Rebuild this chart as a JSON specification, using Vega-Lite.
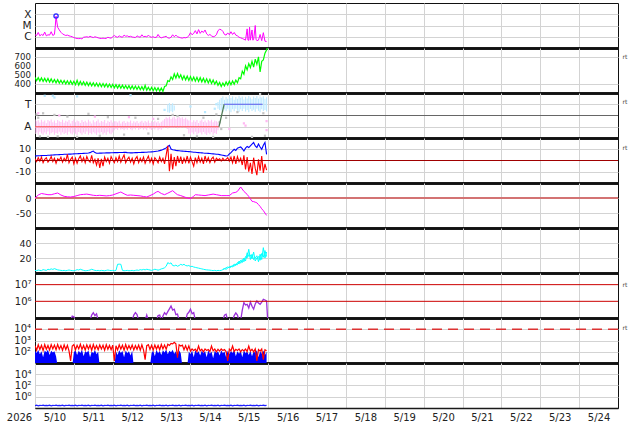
{
"$schema":"https://vega.github.io/schema/vega-lite/v6.json",
"padding":{"left":0,"top":2,"right":0,"bottom":0},
"background":"white",
"spacing":0,
"bounds":"flush",
"config":{"view":{"stroke":"#111","strokeWidth":1},"font":"DejaVu Sans","mark":{"invalid":"filter"},
"axis":{"labelFont":"DejaVu Sans","labelFontSize":9.5,"labelColor":"#222","gridColor":"#d3d3d3","gridWidth":1,"ticks":false,"domain":false,"labelOverlap":false,"labelFlush":false}},
"datasets":{
"d":[
{"h":0,"x":1.5e-6,"s":474,"t":4.0,"z":1.5,"n":3.5,"e":7e4,"r":338,"b":124,"q":0.027},
{"h":1,"x":1.3e-6,"s":436,"t":4.1,"z":-1.0,"n":3.0,"e":7e4,"r":135,"b":78,"q":0.031},
{"h":2,"x":2.4e-6,"s":470,"t":4.2,"z":2.5,"n":4.0,"e":7e4,"r":416,"b":143,"q":0.025},
{"h":3,"x":1.2e-6,"s":432,"t":4.2,"z":-0.5,"n":3.5,"e":7e4,"r":158,"b":59,"q":0.030},
{"h":4,"x":1.6e-6,"s":467,"t":4.3,"z":3.0,"n":3.2,"e":7e4,"r":377,"b":110,"q":0.028},
{"h":5,"x":1.3e-6,"s":429,"t":4.4,"z":-2.0,"n":4.5,"e":7e4,"r":128,"b":33,"q":0.033},
{"h":6,"x":2.6e-6,"s":462,"t":4.5,"z":1.0,"n":4.0,"e":7e4,"r":442,"b":130,"q":0.026},
{"h":7,"x":1.2e-6,"s":425,"t":4.5,"z":2.5,"n":3.5,"e":7e4,"r":165,"b":91,"q":0.029},
{"h":8,"x":1.5e-6,"s":461,"t":4.6,"z":-1.5,"n":5.0,"e":7e4,"r":364,"b":150,"q":0.027},
{"h":9,"x":1.4e-6,"s":422,"t":4.7,"z":0.5,"n":4.5,"e":7e4,"r":143,"b":52,"q":0.031},
{"h":10,"x":2.8e-6,"s":457,"t":4.8,"z":3.5,"n":5.5,"e":7e4,"r":429,"b":124,"q":0.025},
{"h":11,"x":1.3e-6,"s":418,"t":4.9,"z":-1.0,"n":4.8,"e":7e4,"r":180,"b":85,"q":0.030},
{"h":12,"x":1.6e-6,"s":450,"t":5.0,"z":2.0,"n":5.8,"e":7e4,"r":390,"b":110,"q":0.028},
{"h":12.5,"x":8e-6},
{"h":13,"x":6.9e-5,"s":413,"t":5.1,"z":-2.5,"n":5.0,"e":7e4,"r":150,"b":39,"q":0.033},
{"h":13.5,"x":2e-5},
{"h":14,"x":7e-6,"s":448,"t":5.1,"z":1.5,"n":4.2,"e":7e4,"r":455,"b":5,"q":0.026},
{"h":15,"x":4e-6,"s":410,"t":5.2,"z":0.0,"n":3.8,"e":7e4,"r":173,"b":5,"q":0.029},
{"h":16,"x":2.5e-6,"s":442,"t":5.3,"z":3.0,"n":3.5,"e":7e4,"r":351,"b":5,"q":0.027},
{"h":17,"x":1.8e-6,"s":406,"t":5.4,"z":-1.5,"n":3.2,"e":7e4,"r":135,"b":5,"q":0.031},
{"h":18,"x":1.5e-6,"s":439,"t":5.5,"z":2.0,"n":3.5,"e":7e4,"r":403,"b":5,"q":0.025},
{"h":19,"x":1.3e-6,"s":402,"t":5.5,"z":-0.5,"n":3.0,"e":7e4,"r":158,"b":5,"q":0.030},
{"h":20,"x":1.4e-6,"s":436,"t":5.6,"z":5.5,"n":3.5,"e":7e4,"r":364,"b":5,"q":0.028},
{"h":21,"x":1.2e-6,"s":398,"t":5.7,"z":-2.0,"n":4.0,"e":7e4,"r":120,"b":5,"q":0.033},
{"h":22,"x":1.1e-6,"s":434,"t":5.7,"z":1.0,"n":3.5,"e":7e4,"r":15,"b":5,"q":0.026},
{"h":23,"x":1.0e-6,"s":396,"t":5.8,"z":3.0,"n":3.2,"e":1.3e5,"r":325,"b":5,"q":0.029},
{"h":24,"x":8.5e-7,"s":430,"t":5.9,"z":-3.0,"n":3.0,"e":1.2e5,"r":429,"b":91,"q":0.027},
{"h":25,"x":7.5e-7,"s":393,"t":6.0,"z":2.0,"n":3.5,"e":7e4,"r":150,"b":137,"q":0.031},
{"h":26,"x":7.0e-7,"s":442,"t":6.0,"z":-2.5,"n":4.5,"e":7e4,"r":377,"b":52,"q":0.025},
{"h":27,"x":6.8e-7,"s":388,"t":6.1,"z":1.5,"n":4.0,"e":7e4,"r":180,"b":124,"q":0.030},
{"h":28,"x":7.0e-7,"s":428,"t":6.2,"z":4.0,"n":5.0,"e":7e4,"r":468,"b":78,"q":0.028},
{"h":29,"x":6.5e-7,"s":390,"t":6.2,"z":-1.0,"n":4.2,"e":7e4,"r":158,"b":150,"q":0.033},
{"h":30,"x":9.0e-7,"s":424,"t":6.3,"z":2.5,"n":3.5,"e":7e4,"r":364,"b":39,"q":0.026},
{"h":31,"x":9.5e-7,"s":386,"t":6.4,"z":-2.0,"n":3.0,"e":7e4,"r":143,"b":110,"q":0.029},
{"h":32,"x":1.0e-6,"s":422,"t":6.4,"z":3.5,"n":3.2,"e":7e4,"r":416,"b":85,"q":0.027},
{"h":33,"x":9.0e-7,"s":383,"t":6.6,"z":0.0,"n":3.5,"e":7e4,"r":173,"b":130,"q":0.031},
{"h":34,"x":1.1e-6,"s":417,"t":7.0,"z":-1.5,"n":4.0,"e":7e4,"r":390,"b":33,"q":0.025},
{"h":35,"x":9.5e-7,"s":379,"t":7.8,"z":4.5,"n":5.0,"e":1.5e5,"r":135,"b":104,"q":0.030},
{"h":36,"x":8.5e-7,"s":414,"t":8.4,"z":-2.0,"n":4.2,"e":2.1e5,"r":442,"b":72,"q":0.028},
{"h":37,"x":1.0e-6,"s":376,"t":7.0,"z":1.0,"n":3.5,"e":1.4e5,"r":165,"b":143,"q":0.033},
{"h":38,"x":9.0e-7,"s":411,"t":6.5,"z":-4.0,"n":3.2,"e":1.8e5,"r":351,"b":59,"q":0.026},
{"h":39,"x":8.0e-7,"s":373,"t":6.5,"z":2.0,"n":3.5,"e":7e4,"r":150,"b":98,"q":0.029},
{"h":40,"x":7.2e-7,"s":408,"t":6.6,"z":-6.5,"n":3.0,"e":7e4,"r":403,"b":5,"q":0.027},
{"h":41,"x":7.0e-7,"s":370,"t":6.6,"z":1.5,"n":3.5,"e":7e4,"r":180,"b":5,"q":0.031},
{"h":42,"x":7.5e-7,"s":405,"t":6.7,"z":-5.0,"n":3.2,"e":7e4,"r":377,"b":5,"q":0.025},
{"h":43,"x":7.0e-7,"s":368,"t":6.7,"z":3.0,"n":3.0,"e":7e4,"r":135,"b":5,"q":0.030},
{"h":44,"x":7.2e-7,"s":402,"t":6.8,"z":-1.0,"n":3.5,"e":7e4,"r":429,"b":5,"q":0.028},
{"h":45,"x":9.0e-7,"s":364,"t":6.8,"z":2.0,"n":4.0,"e":7e4,"r":165,"b":5,"q":0.033},
{"h":46,"x":8.0e-7,"s":399,"t":6.8,"z":-2.5,"n":3.5,"e":7e4,"r":364,"b":5,"q":0.026},
{"h":47,"x":7.5e-7,"s":361,"t":6.9,"z":3.5,"n":3.2,"e":7e4,"r":150,"b":5,"q":0.029},
{"h":48,"x":1.0e-6,"s":396,"t":6.9,"z":0.5,"n":3.5,"e":7e4,"r":390,"b":5,"q":0.027},
{"h":49,"x":1.3e-6,"s":358,"t":7.0,"z":-2.0,"n":3.0,"e":7e4,"r":15,"b":5,"q":0.031},
{"h":50,"x":1.0e-6,"s":393,"t":7.0,"z":2.5,"n":3.5,"e":7e4,"r":338,"b":104,"q":0.025},
{"h":51,"x":9.0e-7,"s":355,"t":7.0,"z":-1.0,"n":11.6,"e":7e4,"r":143,"b":52,"q":0.030},
{"h":52,"x":1.2e-6,"s":390,"t":7.1,"z":4.0,"n":11.8,"e":7e4,"r":416,"b":137,"q":0.028},
{"h":53,"x":1.0e-6,"s":353,"t":7.1,"z":-1.5,"n":11.6,"e":7e4,"r":173,"b":78,"q":0.033},
{"h":54,"x":9.0e-7,"s":387,"t":7.1,"z":2.0,"n":3.5,"e":7e4,"r":377,"b":117,"q":0.026},
{"h":55,"x":1.4e-6,"s":350,"t":7.2,"z":5.0,"n":3.0,"e":7e4,"r":135,"b":33,"q":0.029},
{"h":56,"x":1.1e-6,"s":384,"t":7.2,"z":-2.0,"n":3.2,"e":7e4,"r":442,"b":130,"q":0.027},
{"h":57,"x":1.2e-6,"s":348,"t":7.0,"z":1.0,"n":3.5,"e":7e4,"r":158,"b":72,"q":0.031},
{"h":58,"x":1.0e-6,"s":382,"t":6.9,"z":3.0,"n":3.0,"e":7e4,"r":364,"b":110,"q":0.025},
{"h":59,"x":1.1e-6,"s":345,"t":6.8,"z":-1.5,"n":3.2,"e":7e4,"r":173,"b":46,"q":0.030},
{"h":60,"x":9.5e-7,"s":379,"t":6.8,"z":2.0,"n":3.5,"e":7e4,"r":403,"b":124,"q":0.028},
{"h":61,"x":9.0e-7,"s":342,"t":6.9,"z":-3.0,"n":3.0,"e":1.5e5,"r":143,"b":5,"q":0.033},
{"h":62,"x":8.5e-7,"s":377,"t":7.0,"z":1.5,"n":3.5,"e":2.1e5,"r":351,"b":5,"q":0.026},
{"h":63,"x":1.2e-6,"s":339,"t":7.0,"z":3.5,"n":4.0,"e":1.6e5,"r":165,"b":5,"q":0.029},
{"h":64,"x":1.0e-6,"s":374,"t":7.1,"z":-2.0,"n":3.5,"e":7e4,"r":390,"b":5,"q":0.027},
{"h":65,"x":9.0e-7,"s":336,"t":7.1,"z":2.0,"n":4.5,"e":7e4,"r":135,"b":5,"q":0.031},
{"h":66,"x":1.5e-6,"s":370,"t":7.2,"z":-1.0,"n":4.0,"e":7e4,"r":416,"b":5,"q":0.025},
{"h":67,"x":1.0e-6,"s":333,"t":7.2,"z":3.0,"n":4.8,"e":7e4,"r":150,"b":5,"q":0.030},
{"h":68,"x":1.1e-6,"s":384,"t":7.3,"z":-2.5,"n":4.2,"e":7e4,"r":20,"b":5,"q":0.028},
{"h":69,"x":9.5e-7,"s":330,"t":7.4,"z":1.0,"n":5.0,"e":1.5e5,"r":351,"b":5,"q":0.033},
{"h":70,"x":1.4e-6,"s":364,"t":7.5,"z":4.0,"n":4.5,"e":7e4,"r":429,"b":5,"q":0.026},
{"h":71,"x":1.0e-6,"s":328,"t":7.6,"z":-1.5,"n":4.0,"e":7e4,"r":158,"b":5,"q":0.029},
{"h":72,"x":9.0e-7,"s":362,"t":7.7,"z":2.0,"n":3.5,"e":7e4,"r":377,"b":78,"q":0.027},
{"h":73,"x":1.0e-6,"s":326,"t":7.8,"z":-3.0,"n":4.2,"e":7e4,"r":143,"b":124,"q":0.031},
{"h":74,"x":8.5e-7,"s":360,"t":8.0,"z":2.5,"n":5.0,"e":7e4,"r":403,"b":39,"q":0.025},
{"h":75,"x":9.0e-7,"s":324,"t":8.2,"z":0.5,"n":4.5,"e":7e4,"r":173,"b":150,"q":0.030},
{"h":76,"x":1.6e-6,"s":358,"t":8.4,"z":-2.0,"n":3.8,"e":1.4e5,"r":364,"b":72,"q":0.028},
{"h":77,"x":9.5e-7,"s":321,"t":8.8,"z":3.0,"n":4.5,"e":1.5e5,"r":150,"b":117,"q":0.033},
{"h":78,"x":8.0e-7,"s":354,"t":9.2,"z":-1.0,"n":5.5,"e":7e4,"r":442,"b":52,"q":0.026},
{"h":79,"x":9.0e-7,"s":318,"t":9.8,"z":2.0,"n":6.0,"e":1.3e5,"r":180,"b":137,"q":0.029},
{"h":80,"x":1.0e-6,"s":372,"t":10.5,"z":-3.0,"n":7.0,"e":2.1e5,"r":390,"b":85,"q":0.027},
{"h":81,"x":1.1e-6,"s":380,"t":11.2,"z":5.0,"n":9.0,"e":1.6e5,"r":165,"b":160,"q":0.031},
{"h":82,"x":8.0e-7,"s":437,"t":12.4,"z":13.0,"n":13.8,"e":2.4e5,"r":468,"b":59,"q":0.025},
{"h":83,"x":7.5e-7,"s":428,"t":13.5,"z":-9.5,"n":12.5,"e":3.5e5,"r":364,"b":124,"q":0.030},
{"h":84,"x":9.0e-7,"s":480,"t":10.2,"z":6.0,"n":13.5,"e":5.2e5,"r":546,"b":91,"q":0.028},
{"h":85,"x":1.5e-6,"s":450,"t":9.6,"z":-8.0,"n":10.0,"e":3.0e5,"r":494,"b":150,"q":0.033},
{"h":86,"x":1.0e-6,"s":512,"t":9.3,"z":3.0,"n":9.5,"e":3.4e5,"r":676,"b":65,"q":0.026},
{"h":87,"x":1.4e-6,"s":466,"t":9.0,"z":-5.0,"n":10.5,"e":1.6e5,"r":520,"b":110,"q":0.029},
{"h":88,"x":1.0e-6,"s":517,"t":8.8,"z":4.0,"n":9.0,"e":1.7e5,"r":30,"b":39,"q":0.027},
{"h":89,"x":9.0e-7,"s":468,"t":8.6,"z":-2.0,"n":10.0,"e":7e4,"r":416,"b":130,"q":0.031},
{"h":90,"x":8.0e-7,"s":502,"t":8.4,"z":3.5,"n":11.6,"e":7e4,"r":325,"b":72,"q":0.025},
{"h":91,"x":7.5e-7,"s":450,"t":8.3,"z":-3.0,"n":10.5,"e":7e4,"r":390,"b":5,"q":0.030},
{"h":92,"x":8.5e-7,"s":492,"t":8.2,"z":2.0,"n":11.6,"e":7e4,"r":150,"b":5,"q":0.028},
{"h":93,"x":8.0e-7,"s":446,"t":8.1,"z":-1.5,"n":10.0,"e":7e4,"r":351,"b":5,"q":0.033},
{"h":94,"x":9.0e-7,"s":487,"t":8.0,"z":4.0,"n":9.5,"e":1.7e5,"r":135,"b":5,"q":0.026},
{"h":95,"x":1.2e-6,"s":440,"t":7.9,"z":-2.5,"n":10.0,"e":2.2e5,"r":338,"b":104,"q":0.029},
{"h":96,"x":2.3e-6,"s":482,"t":7.8,"z":3.0,"n":8.5,"e":3.4e5,"r":113,"b":59,"q":0.027},
{"h":97,"x":1.5e-6,"s":436,"t":7.6,"z":-1.0,"n":9.0,"e":1.8e5,"r":180,"b":130,"q":0.031},
{"h":98,"x":2.0e-6,"s":477,"t":7.4,"z":-5.0,"n":8.0,"e":2.1e5,"r":128,"b":33,"q":0.025},
{"h":99,"x":3.5e-6,"s":431,"t":7.3,"z":2.5,"n":7.5,"e":7e4,"r":173,"b":137,"q":0.030},
{"h":100,"x":1.8e-6,"s":474,"t":7.1,"z":-2.0,"n":7.0,"e":7e4,"r":105,"b":78,"q":0.028},
{"h":101,"x":4.3e-6,"s":428,"t":7.0,"z":3.5,"n":6.5,"e":7e4,"r":325,"b":110,"q":0.033},
{"h":102,"x":2.0e-6,"s":470,"t":6.9,"z":-1.5,"n":6.0,"e":7e4,"r":120,"b":46,"q":0.026},
{"h":103,"x":3.2e-6,"s":424,"t":6.8,"z":2.0,"n":5.5,"e":7e4,"r":165,"b":130,"q":0.029},
{"h":104,"x":2.4e-6,"s":464,"t":6.6,"z":-3.0,"n":5.0,"e":7e4,"r":98,"b":72,"q":0.027},
{"h":105,"x":4.0e-6,"s":418,"t":6.5,"z":4.0,"n":4.5,"e":7e4,"r":180,"b":117,"q":0.031},
{"h":106,"x":1.8e-6,"s":458,"t":6.4,"z":-1.0,"n":4.2,"e":7e4,"r":128,"b":33,"q":0.025},
{"h":107,"x":1.3e-6,"s":412,"t":6.3,"z":2.5,"n":4.0,"e":7e4,"r":158,"b":137,"q":0.030},
{"h":108,"x":1.6e-6,"s":452,"t":6.2,"z":-2.0,"n":3.8,"e":7e4,"r":105,"b":65,"q":0.028},
{"h":109,"x":1.2e-6,"s":406,"t":6.0,"z":1.5,"n":3.5,"e":7e4,"r":325,"b":104,"q":0.033},
{"h":110,"x":1.0e-6,"s":444,"t":5.9,"z":3.0,"n":3.2,"e":7e4,"r":120,"b":26,"q":0.026},
{"h":111,"x":1.1e-6,"s":398,"t":5.8,"z":-1.5,"n":3.5,"e":7e4,"r":173,"b":124,"q":0.029},
{"h":112,"x":1.5e-6,"s":432,"t":5.6,"z":2.0,"n":3.0,"e":7e4,"r":98,"b":78,"q":0.027},
{"h":113,"x":3.5e-6,"s":386,"t":5.5,"z":0.5,"n":3.5,"e":7e4,"r":165,"b":110,"q":0.031},
{"h":114,"x":4.6e-6,"s":417,"t":5.2,"z":1.5,"n":3.2,"e":7e4,"r":113,"b":46,"q":0.025},
{"h":115,"x":4.2e-6,"s":373,"t":4.9,"z":-0.5,"n":3.5,"e":7e4,"r":180,"b":137,"q":0.030},
{"h":116,"x":3.0e-6,"s":410,"t":4.6,"z":2.0,"n":4.5,"e":7e4,"r":128,"b":72,"q":0.028},
{"h":117,"x":1.6e-6,"s":380,"t":4.3,"z":0.0,"n":6.0,"e":1.5e5,"r":158,"b":104,"q":0.033},
{"h":118,"x":1.4e-6,"s":424,"t":4.0,"z":1.0,"n":5.0,"e":1.7e5,"r":105,"b":33,"q":0.026},
{"h":119,"x":2.2e-6,"s":388,"t":4.2,"z":2.5,"n":6.5,"e":7e4,"r":15,"b":130,"q":0.029},
{"h":120,"x":1.5e-6,"s":430,"t":5.8,"z":-0.5,"n":8.4,"e":7e4,"r":173,"b":59,"q":0.027},
{"h":121,"x":2.8e-6,"s":392,"t":7.0,"z":3.0,"n":7.5,"e":7e4,"r":120,"b":117,"q":0.031},
{"h":122,"x":1.6e-6,"s":434,"t":8.5,"z":-2.0,"n":10.0,"e":7e4,"r":325,"b":78,"q":0.025},
{"h":123,"x":2.4e-6,"s":398,"t":10.0,"z":4.0,"n":9.0,"e":1.4e5,"r":105,"b":150,"q":0.030},
{"h":124,"x":1.4e-6,"s":444,"t":9.0,"z":-3.0,"n":12.0,"e":2.0e5,"r":165,"b":39,"q":0.028},
{"h":125,"x":1.2e-6,"s":413,"t":11.0,"z":3.5,"n":11.0,"e":1.5e5,"r":128,"b":110,"q":0.033},
{"h":126,"x":9.0e-7,"s":470,"t":11.5,"z":-1.0,"n":16.0,"e":7e4,"r":180,"b":65,"q":0.026},
{"h":127,"x":8.0e-7,"s":458,"t":12.0,"z":2.0,"n":13.0,"e":7e4,"r":98,"b":130,"q":0.029},
{"h":128,"x":7.0e-7,"s":542,"t":10.5,"z":-4.0,"n":18.0,"e":3.0e5,"r":158,"b":33,"q":0.027},
{"h":129,"x":6.0e-7,"s":508,"t":8.4,"z":4.5,"n":15.0,"e":8.3e5,"r":120,"b":137,"q":0.031},
{"h":130,"x":5.0e-7,"s":602,"t":11.0,"z":-8.0,"n":22.0,"e":6.0e5,"r":173,"b":72,"q":0.025},
{"h":131,"x":5.0e-6,"s":558,"t":12.5,"z":3.0,"n":20.0,"e":6.6e5,"r":105,"b":104,"q":0.030},
{"h":131.5,"x":5e-7},
{"h":132,"x":4.8e-7,"s":627,"t":11.5,"z":-10.0,"n":31.6,"e":4.0e5,"r":325,"b":52,"q":0.028},
{"h":132.5,"x":7e-6},
{"h":133,"x":5.0e-7,"s":583,"t":13.0,"z":-2.0,"n":18.0,"e":9.1e5,"r":113,"b":124,"q":0.033},
{"h":134,"x":4.0e-6,"s":652,"t":14.5,"z":-12.0,"n":25.0,"e":5.0e5,"r":165,"b":39,"q":0.026},
{"h":134.5,"x":5e-7},
{"h":135,"x":5.5e-7,"s":588,"t":16.0,"z":2.5,"n":17.8,"e":3.4e5,"r":98,"b":117,"q":0.029},
{"h":136,"x":1.0e-5,"s":677,"t":13.0,"z":-7.0,"n":20.0,"e":7.0e5,"r":180,"b":78,"q":0.027},
{"h":136.5,"x":6e-7},
{"h":137,"x":4.5e-7,"s":618,"t":11.5,"z":-13.0,"n":23.0,"e":1.05e6,"r":15,"b":137,"q":0.031},
{"h":138,"x":5.0e-7,"s":702,"t":14.7,"z":1.0,"n":15.0,"e":8.0e5,"r":158,"b":33,"q":0.025},
{"h":139,"x":1.6e-6,"s":533,"t":12.0,"z":-9.0,"n":25.0,"e":6.6e5,"r":113,"b":110,"q":0.030},
{"h":140,"x":4.5e-7,"s":652,"t":10.0,"z":4.0,"n":18.0,"e":9.0e5,"r":173,"b":65,"q":0.028},
{"h":141,"x":2.3e-6,"s":668,"t":13.5,"z":-11.0,"n":33.8,"e":1.32e6,"r":20,"b":130,"q":0.033},
{"h":142,"x":4.0e-7,"s":742,"t":16.0,"z":-3.0,"n":20.0,"e":1.2e6,"r":150,"b":52,"q":0.026},
{"h":143,"x":3.8e-7,"s":778,"t":5.5,"z":-8.5,"n":28.0,"e":1.05e6,"r":120,"b":98,"q":0.029},
{"h":143.5,"s":800},
{"h":143.7,"e":7e4}
],
"n2":[{"h":116,"v":5},{"h":117,"v":5.5},{"h":118,"v":7},{"h":119,"v":8},{"h":120,"v":7},{"h":121,"v":9.5},{"h":122,"v":8},{"h":123,"v":12},{"h":124,"v":10},{"h":125,"v":14},{"h":126,"v":12},{"h":127,"v":17},{"h":128,"v":14},{"h":129,"v":20},{"h":130,"v":16},{"h":131,"v":27},{"h":132,"v":22},{"h":133,"v":24},{"h":134,"v":19},{"h":135,"v":28},{"h":136,"v":16},{"h":137,"v":20},{"h":138,"v":22},{"h":139,"v":17},{"h":140,"v":26},{"h":141,"v":21},{"h":142,"v":30},{"h":143,"v":22}],
"dst":[{"h":0,"v":0},{"h":2,"v":10},{"h":4,"v":15},{"h":6,"v":13},{"h":8,"v":11},{"h":10,"v":11},{"h":12,"v":14},{"h":14,"v":16.7},{"h":16,"v":10},{"h":18,"v":5.6},{"h":20,"v":4},{"h":22,"v":3.3},{"h":24,"v":5},{"h":26,"v":8},{"h":28,"v":11},{"h":30,"v":12},{"h":32,"v":13},{"h":34,"v":11},{"h":36,"v":9},{"h":38,"v":8},{"h":40,"v":9},{"h":42,"v":8},{"h":44,"v":7},{"h":46,"v":8},{"h":48,"v":10},{"h":50,"v":14},{"h":52,"v":18},{"h":53,"v":20},{"h":55,"v":14},{"h":57,"v":9},{"h":59,"v":10},{"h":61,"v":9},{"h":63,"v":8},{"h":65,"v":7},{"h":67,"v":5},{"h":69,"v":3.3},{"h":71,"v":8},{"h":73,"v":13},{"h":75,"v":20},{"h":76,"v":22},{"h":78,"v":15},{"h":80,"v":11},{"h":82,"v":16},{"h":85,"v":24.4},{"h":87,"v":15},{"h":88,"v":11},{"h":90,"v":8},{"h":92,"v":4},{"h":94,"v":0},{"h":96,"v":-2},{"h":98,"v":6},{"h":99,"v":11},{"h":101,"v":10},{"h":103,"v":9},{"h":105,"v":8},{"h":107,"v":10},{"h":110,"v":13},{"h":112,"v":11},{"h":115,"v":8},{"h":118,"v":8},{"h":120,"v":8},{"h":122,"v":16.7},{"h":124,"v":19},{"h":125,"v":22},{"h":127,"v":36.7},{"h":129,"v":22},{"h":131,"v":12},{"h":132,"v":5},{"h":133,"v":-3},{"h":134,"v":-11},{"h":135,"v":-12},{"h":136,"v":-14},{"h":137,"v":-16},{"h":138,"v":-22},{"h":139,"v":-28},{"h":140,"v":-36},{"h":141,"v":-42},{"h":142,"v":-50},{"h":143,"v":-58}],
"pb":[{"h":0,"lo":-1.65,"hi":-0.35},{"h":1,"lo":-1.5,"hi":-0.5},{"h":2,"lo":-1.72,"hi":-0.42},{"h":3,"lo":-1.45,"hi":-0.62},{"h":4,"lo":-1.6,"hi":-0.38},{"h":5,"lo":-1.7,"hi":-0.55},{"h":6,"lo":-1.52,"hi":-0.45},{"h":7,"lo":-1.66,"hi":-0.68},{"h":8,"lo":-1.42,"hi":-0.4},{"h":9,"lo":-1.7,"hi":-0.52},{"h":10,"lo":-1.58,"hi":-0.36},{"h":11,"lo":-1.48,"hi":-0.6},{"h":12,"lo":-1.7,"hi":-0.44},{"h":13,"lo":-1.55,"hi":-0.66},{"h":14,"lo":-1.62,"hi":-0.4},{"h":15,"lo":-1.45,"hi":-0.5},{"h":16,"lo":-1.72,"hi":-0.58},{"h":17,"lo":-1.5,"hi":-0.38},{"h":18,"lo":-1.64,"hi":-0.64},{"h":19,"lo":-1.56,"hi":-0.46},{"h":20,"lo":-1.7,"hi":-0.55},{"h":21,"lo":-1.44,"hi":-0.4},{"h":22,"lo":-1.6,"hi":-0.7},{"h":23,"lo":-1.68,"hi":-0.48},{"h":24,"lo":-1.5,"hi":-0.36},{"h":25,"lo":-1.62,"hi":-0.6},{"h":26,"lo":-1.74,"hi":-0.44},{"h":27,"lo":-1.46,"hi":-0.52},{"h":28,"lo":-1.58,"hi":-0.66},{"h":29,"lo":-1.7,"hi":-0.4},{"h":30,"lo":-1.52,"hi":-0.58},{"h":31,"lo":-1.64,"hi":-0.46},{"h":32,"lo":-1.42,"hi":-0.62},{"h":33,"lo":-1.7,"hi":-0.38},{"h":34,"lo":-1.56,"hi":-0.54},{"h":35,"lo":-1.66,"hi":-0.7},{"h":36,"lo":-1.48,"hi":-0.42},{"h":37,"lo":-1.6,"hi":-0.6},{"h":38,"lo":-1.72,"hi":-0.5},{"h":39,"lo":-1.5,"hi":-0.36},{"h":40,"lo":-1.62,"hi":-0.64},{"h":41,"lo":-1.46,"hi":-0.48},{"h":42,"lo":-1.68,"hi":-0.56},{"h":43,"lo":-1.54,"hi":-0.4},{"h":44,"lo":-1.7,"hi":-0.68},{"h":45,"lo":-1.44,"hi":-0.46},{"h":46,"lo":-1.6,"hi":-0.58},{"h":47,"lo":-1.66,"hi":-0.42},{"h":48,"lo":-1.5,"hi":-0.62},{"h":49,"lo":-1.3,"hi":-0.5},{"h":50,"lo":-1.2,"hi":-0.52},{"h":51,"lo":-1.28,"hi":-0.62},{"h":52,"lo":-1.12,"hi":-0.46},{"h":53,"lo":-1.25,"hi":-0.7},{"h":54,"lo":-1.18,"hi":-0.56},{"h":55,"lo":-1.3,"hi":-0.48},{"h":56,"lo":-1.15,"hi":-0.66},{"h":57,"lo":-1.26,"hi":-0.54},{"h":58,"lo":-1.1,"hi":-0.6},{"h":59,"lo":-1.22,"hi":-0.45},{"h":60,"lo":-1.3,"hi":-0.68},{"h":61,"lo":-1.16,"hi":-0.52},{"h":62,"lo":-1.24,"hi":-0.62},{"h":63,"lo":-1.12,"hi":-0.48},{"h":64,"lo":-1.28,"hi":-0.7},{"h":65,"lo":-1.2,"hi":-0.55},{"h":66,"lo":-1.14,"hi":-0.46},{"h":67,"lo":-1.26,"hi":-0.64},{"h":68,"lo":-1.18,"hi":-0.5},{"h":69,"lo":-1.3,"hi":-0.6},{"h":70,"lo":-1.1,"hi":-0.44},{"h":71,"lo":-1.22,"hi":-0.66},{"h":72,"lo":-1.28,"hi":-0.52},{"h":73,"lo":-1.15,"hi":-0.58},{"h":74,"lo":-1.24,"hi":-0.46},{"h":75,"lo":-1.12,"hi":-0.62},{"h":76,"lo":-1.3,"hi":-0.5},{"h":77,"lo":-1.18,"hi":-0.7},{"h":78,"lo":-1.26,"hi":-0.55},{"h":79,"lo":-1.14,"hi":-0.45},{"h":80,"lo":-1.1,"hi":-0.3},{"h":81,"lo":-1.05,"hi":-0.15},{"h":82,"lo":-1.15,"hi":-0.25},{"h":83,"lo":-0.98,"hi":-0.1},{"h":84,"lo":-1.1,"hi":-0.3},{"h":85,"lo":-1.08,"hi":-0.18},{"h":86,"lo":-1.12,"hi":-0.12},{"h":87,"lo":-1.0,"hi":-0.28},{"h":88,"lo":-1.14,"hi":-0.2},{"h":89,"lo":-1.06,"hi":-0.1},{"h":90,"lo":-1.1,"hi":-0.25},{"h":91,"lo":-0.96,"hi":-0.16},{"h":92,"lo":-1.12,"hi":-0.3},{"h":93,"lo":-1.05,"hi":-0.2},{"h":94,"lo":-1.2,"hi":-0.35},{"h":95,"lo":-1.6,"hi":-0.45},{"h":96,"lo":-1.7,"hi":-0.38},{"h":97,"lo":-1.52,"hi":-0.6},{"h":98,"lo":-1.66,"hi":-0.42},{"h":99,"lo":-1.44,"hi":-0.55},{"h":100,"lo":-1.72,"hi":-0.4},{"h":101,"lo":-1.58,"hi":-0.66},{"h":102,"lo":-1.5,"hi":-0.46},{"h":103,"lo":-1.68,"hi":-0.36},{"h":104,"lo":-1.46,"hi":-0.58},{"h":105,"lo":-1.62,"hi":-0.44},{"h":106,"lo":-1.74,"hi":-0.62},{"h":107,"lo":-1.54,"hi":-0.4},{"h":108,"lo":-1.66,"hi":-0.52},{"h":109,"lo":-1.48,"hi":-0.38},{"h":110,"lo":-1.7,"hi":-0.6},{"h":111,"lo":-1.56,"hi":-0.45},{"h":112,"lo":-1.64,"hi":-0.5},{"h":113,"lo":-1.3,"hi":-0.6}],
"bb":[{"h":82,"lo":0.3,"hi":1.0},{"h":83,"lo":0.25,"hi":1.12},{"h":84,"lo":0.38,"hi":0.95},{"h":85,"lo":0.3,"hi":1.08},{"h":86,"lo":0.45,"hi":0.9},{"h":113,"lo":0.6,"hi":1.2},{"h":114,"lo":0.5,"hi":1.4},{"h":115,"lo":0.45,"hi":1.55},{"h":116,"lo":0.3,"hi":1.72},{"h":117,"lo":0.55,"hi":1.4},{"h":118,"lo":0.38,"hi":1.65},{"h":119,"lo":0.6,"hi":1.5},{"h":120,"lo":0.45,"hi":1.75},{"h":121,"lo":0.3,"hi":1.55},{"h":122,"lo":0.55,"hi":1.72},{"h":123,"lo":0.38,"hi":1.4},{"h":124,"lo":0.6,"hi":1.65},{"h":125,"lo":0.42,"hi":1.5},{"h":126,"lo":0.32,"hi":1.75},{"h":127,"lo":0.55,"hi":1.58},{"h":128,"lo":0.4,"hi":1.7},{"h":129,"lo":0.6,"hi":1.42},{"h":130,"lo":0.35,"hi":1.66},{"h":131,"lo":0.5,"hi":1.52},{"h":132,"lo":0.3,"hi":1.74},{"h":133,"lo":0.58,"hi":1.6},{"h":134,"lo":0.4,"hi":1.45},{"h":135,"lo":0.52,"hi":1.7},{"h":136,"lo":0.34,"hi":1.55},{"h":137,"lo":0.6,"hi":1.74},{"h":138,"lo":0.42,"hi":1.5},{"h":139,"lo":0.3,"hi":1.68},{"h":140,"lo":0.55,"hi":1.6},{"h":141,"lo":0.4,"hi":1.72},{"h":142,"lo":0.5,"hi":1.48},{"h":143,"lo":0.36,"hi":1.62}],
"gp":[{"h":1,"v":0.1},{"h":2,"v":-0.2},{"h":3,"v":-1.85},{"h":5,"v":0.2},{"h":8,"v":-1.9},{"h":12,"v":0.05},{"h":14,"v":-1.85},{"h":20,"v":-0.1},{"h":26,"v":-1.9},{"h":33,"v":0.15},{"h":40,"v":-1.8},{"h":45,"v":-0.15},{"h":55,"v":-1.7},{"h":62,"v":-0.2},{"h":70,"v":-1.6},{"h":76,"v":-0.3},{"h":85,"v":0.05},{"h":88,"v":-0.05},{"h":92,"v":-1.75},{"h":100,"v":-1.85},{"h":104,"v":-0.2},{"h":110,"v":-1.9},{"h":112,"v":0.1},{"h":114,"v":-0.6},{"h":115,"v":-1.2},{"h":118,"v":-0.2},{"h":125,"v":0.3},{"h":134,"v":-1.9},{"h":139,"v":1.9},{"h":141,"v":0.2},{"h":142,"v":-1.8}],
"lp":[{"h":6,"v":1.75},{"h":11,"v":1.75},{"h":12,"v":1.6},{"h":26,"v":1.7},{"h":59,"v":1.8},{"h":80,"v":0.5},{"h":96,"v":0.8},{"h":105,"v":0.3},{"h":111,"v":0.6},{"h":112,"v":1.0}],
"pp":[{"h":2,"v":0.2},{"h":15,"v":0.0},{"h":37,"v":-0.1},{"h":58,"v":-0.15},{"h":73,"v":-0.3},{"h":120,"v":-1.2},{"h":129,"v":-0.7},{"h":130,"v":-0.9},{"h":143,"v":-0.5},{"h":143,"v":-1.3}]
},
"vconcat":[
{"width":583,"height":45,"data":{"name":"d"},"layer":[
 {"mark":{"type":"line","color":"#ff00ff","strokeWidth":1,"clip":true},
  "encoding":{"x":{"field":"h","type":"quantitative","scale":{"domain":[0,360],"nice":false,"zero":false},"axis":{"values":[24,48,72,96,120,144,168,192,216,240,264,288,312,336],"labels":false,"grid":true,"domain":true,"domainColor":"#1a1a1a","domainWidth":3,"title":null}},
   "y":{"field":"x","type":"quantitative","scale":{"type":"log","domain":[1e-7,1e-3],"nice":false},"axis":{"values":[1e-6,1e-5,1e-4],"labelExpr":"datum.value < 3e-6 ? 'C' : datum.value < 3e-5 ? 'M' : 'X'","grid":true,"labelPadding":4,"minExtent":34,"maxExtent":34,"title":null,"labelFontSize":10.5,"labelOverlap":false}}}},
 {"data":{"values":[{"h":13,"x":6.9e-5}]},"mark":{"type":"circle","filled":false,"color":"#2828ff","size":18,"strokeWidth":1.3,"opacity":1},
  "encoding":{"x":{"field":"h","type":"quantitative","scale":{"domain":[0,360]}},"y":{"field":"x","type":"quantitative","scale":{"type":"log","domain":[1e-7,1e-3]}}}}
]},
{"width":583,"height":45,"data":{"name":"d"},"layer":[
 {"mark":{"type":"line","color":"#00ff00","strokeWidth":1.2,"clip":true},
  "encoding":{"x":{"field":"h","type":"quantitative","scale":{"domain":[0,360],"nice":false,"zero":false},"axis":{"values":[24,48,72,96,120,144,168,192,216,240,264,288,312,336],"labels":false,"grid":true,"domain":true,"domainColor":"#1a1a1a","domainWidth":3,"title":null}},
   "y":{"field":"s","type":"quantitative","scale":{"domain":[300,800],"nice":false,"zero":false},"axis":{"values":[400,500,600,700],"labels":false,"grid":true,"minExtent":34,"maxExtent":34,"title":null}}}},
 {"data":{"values":[{"h":-2.47,"v":400,"l":"400"},{"h":-2.47,"v":500,"l":"500"},{"h":-2.47,"v":600,"l":"600"},{"h":-2.47,"v":700,"l":"700"}]},"mark":{"type":"text","fontSize":8.6,"font":"DejaVu Sans","color":"#222","align":"right","baseline":"middle"},
  "encoding":{"x":{"field":"h","type":"quantitative","scale":{"domain":[0,360]}},"y":{"field":"v","type":"quantitative","scale":{"domain":[300,800]}},"text":{"field":"l"}}},
 {"data":{"values":[{"h":364.3,"v":700}]},"mark":{"type":"text","fontSize":6,"color":"#444","align":"center","baseline":"middle"},
  "encoding":{"x":{"field":"h","type":"quantitative","scale":{"domain":[0,360]}},"y":{"field":"v","type":"quantitative","scale":{"domain":[300,800]}},"text":{"value":"rt"}}}
]},
{"width":583,"height":45,"layer":[
 {"data":{"name":"pb"},"mark":{"type":"rule","color":"#ffc2f5","strokeWidth":1.1,"clip":true},
  "encoding":{"x":{"field":"h","type":"quantitative","scale":{"domain":[0,360],"nice":false,"zero":false},"axis":{"values":[24,48,72,96,120,144,168,192,216,240,264,288,312,336],"labels":false,"grid":true,"domain":true,"domainColor":"#1a1a1a","domainWidth":3,"title":null}},
   "y":{"field":"lo","type":"quantitative","scale":{"domain":[-2,2],"nice":false,"zero":false},"axis":{"values":[-1,1],"labelExpr":"datum.value < 0 ? 'A' : 'T'","grid":true,"labelPadding":4,"minExtent":34,"maxExtent":34,"title":null,"labelFontSize":10.5,"labelOverlap":false}},
   "y2":{"field":"hi"}}},
 {"data":{"name":"bb"},"mark":{"type":"rule","color":"#bde9ff","strokeWidth":1.1,"clip":true},
  "encoding":{"x":{"field":"h","type":"quantitative","scale":{"domain":[0,360]}},"y":{"field":"lo","type":"quantitative","scale":{"domain":[-2,2]}},"y2":{"field":"hi"}}},
 {"data":{"values":[{"v":0}]},"mark":{"type":"rule","color":"#666","strokeWidth":1.2},"encoding":{"y":{"field":"v","type":"quantitative","scale":{"domain":[-2,2]}}}},
 {"data":{"name":"gp"},"mark":{"type":"square","size":5,"filled":true,"opacity":1,"color":"#c4c4c4","clip":true},
  "encoding":{"x":{"field":"h","type":"quantitative","scale":{"domain":[0,360]}},"y":{"field":"v","type":"quantitative","scale":{"domain":[-2,2]}}}},
 {"data":{"name":"lp"},"mark":{"type":"square","size":5,"filled":true,"opacity":1,"color":"#b8e8ff","clip":true},
  "encoding":{"x":{"field":"h","type":"quantitative","scale":{"domain":[0,360]}},"y":{"field":"v","type":"quantitative","scale":{"domain":[-2,2]}}}},
 {"data":{"name":"pp"},"mark":{"type":"square","size":5,"filled":true,"opacity":1,"color":"#ffb8f2","clip":true},
  "encoding":{"x":{"field":"h","type":"quantitative","scale":{"domain":[0,360]}},"y":{"field":"v","type":"quantitative","scale":{"domain":[-2,2]}}}},
 {"data":{"values":[{"h":0,"v":-1},{"h":113.6,"v":-1}]},"mark":{"type":"line","color":"#ff4a4a","strokeWidth":1.2},
  "encoding":{"x":{"field":"h","type":"quantitative","scale":{"domain":[0,360]}},"y":{"field":"v","type":"quantitative","scale":{"domain":[-2,2]}}}},
 {"data":{"values":[{"h":113.6,"v":-1},{"h":116.8,"v":1}]},"mark":{"type":"line","color":"#4f7a55","strokeWidth":1.2},
  "encoding":{"x":{"field":"h","type":"quantitative","scale":{"domain":[0,360]}},"y":{"field":"v","type":"quantitative","scale":{"domain":[-2,2]}}}},
 {"data":{"values":[{"h":116.8,"v":1},{"h":140.5,"v":1}]},"mark":{"type":"line","color":"#5a5aee","strokeWidth":1.2},
  "encoding":{"x":{"field":"h","type":"quantitative","scale":{"domain":[0,360]}},"y":{"field":"v","type":"quantitative","scale":{"domain":[-2,2]}}}},
 {"data":{"values":[{"h":364.3,"v":1.2}]},"mark":{"type":"text","fontSize":6,"color":"#444","align":"center","baseline":"middle"},
  "encoding":{"x":{"field":"h","type":"quantitative","scale":{"domain":[0,360]}},"y":{"field":"v","type":"quantitative","scale":{"domain":[-2,2]}},"text":{"value":"rt"}}}
]},
{"width":583,"height":45,"data":{"name":"d"},"layer":[
 {"mark":{"type":"line","color":"#0000ff","strokeWidth":1.1,"clip":true},
  "encoding":{"x":{"field":"h","type":"quantitative","scale":{"domain":[0,360],"nice":false,"zero":false},"axis":{"values":[24,48,72,96,120,144,168,192,216,240,264,288,312,336],"labels":false,"grid":true,"domain":true,"domainColor":"#1a1a1a","domainWidth":3,"title":null}},
   "y":{"field":"t","type":"quantitative","scale":{"domain":[-20,20],"nice":false,"zero":false},"axis":{"values":[-10,0,10],"labels":false,"grid":true,"minExtent":34,"maxExtent":34,"title":null}}}},
 {"mark":{"type":"line","color":"#ff0000","strokeWidth":1.1,"clip":true},
  "encoding":{"x":{"field":"h","type":"quantitative","scale":{"domain":[0,360]}},"y":{"field":"z","type":"quantitative","scale":{"domain":[-20,20]}}}},
 {"data":{"values":[{"v":0}]},"mark":{"type":"rule","color":"#a00000","strokeWidth":1},"encoding":{"y":{"field":"v","type":"quantitative","scale":{"domain":[-20,20]}}}},
 {"data":{"values":[{"h":-2.47,"v":-10,"l":"-10"},{"h":-2.47,"v":0,"l":"0"},{"h":-2.47,"v":10,"l":"10"}]},"mark":{"type":"text","fontSize":9.5,"font":"DejaVu Sans","color":"#222","align":"right","baseline":"middle"},
  "encoding":{"x":{"field":"h","type":"quantitative","scale":{"domain":[0,360]}},"y":{"field":"v","type":"quantitative","scale":{"domain":[-20,20]}},"text":{"field":"l"}}},
 {"data":{"values":[{"h":364.3,"v":11}]},"mark":{"type":"text","fontSize":6,"color":"#444","align":"center","baseline":"middle"},
  "encoding":{"x":{"field":"h","type":"quantitative","scale":{"domain":[0,360]}},"y":{"field":"v","type":"quantitative","scale":{"domain":[-20,20]}},"text":{"value":"rt"}}}
]},
{"width":583,"height":45,"data":{"name":"dst"},"layer":[
 {"data":{"values":[{"v":0}]},"mark":{"type":"rule","color":"#d37373","strokeWidth":2},"encoding":{"y":{"field":"v","type":"quantitative","scale":{"domain":[-100,50]}}}},
 {"mark":{"type":"line","color":"#ff00ff","strokeWidth":1,"clip":true},
  "encoding":{"x":{"field":"h","type":"quantitative","scale":{"domain":[0,360],"nice":false,"zero":false},"axis":{"values":[24,48,72,96,120,144,168,192,216,240,264,288,312,336],"labels":false,"grid":true,"domain":true,"domainColor":"#1a1a1a","domainWidth":3,"title":null}},
   "y":{"field":"v","type":"quantitative","scale":{"domain":[-100,50],"nice":false,"zero":false},"axis":{"values":[-50,0],"labelExpr":"datum.value < 0 ? '-50' : '0'","grid":true,"labelPadding":4,"minExtent":34,"maxExtent":34,"title":null,"labelOverlap":false}}}}
]},
{"width":583,"height":45,"data":{"name":"d"},"layer":[
 {"mark":{"type":"line","color":"#00ffff","strokeWidth":1,"clip":true},
  "encoding":{"x":{"field":"h","type":"quantitative","scale":{"domain":[0,360],"nice":false,"zero":false},"axis":{"values":[24,48,72,96,120,144,168,192,216,240,264,288,312,336],"labels":false,"grid":true,"domain":true,"domainColor":"#1a1a1a","domainWidth":3,"title":null}},
   "y":{"field":"n","type":"quantitative","scale":{"domain":[0,60],"nice":false,"zero":false},"axis":{"values":[20,40],"labelExpr":"format(datum.value, 'd')","grid":true,"labelPadding":4,"minExtent":34,"maxExtent":34,"title":null,"labelOverlap":false}}}},
 {"data":{"name":"n2"},"mark":{"type":"line","color":"#00ffff","strokeWidth":1,"clip":true},
  "encoding":{"x":{"field":"h","type":"quantitative","scale":{"domain":[0,360]}},"y":{"field":"v","type":"quantitative","scale":{"domain":[0,60]}}}}
]},
{"width":583,"height":45,"data":{"name":"d"},"layer":[
 {"mark":{"type":"line","color":"#9b30d9","strokeWidth":1.3,"clip":true},
  "encoding":{"x":{"field":"h","type":"quantitative","scale":{"domain":[0,360],"nice":false,"zero":false},"axis":{"values":[24,48,72,96,120,144,168,192,216,240,264,288,312,336],"labels":false,"grid":true,"domain":true,"domainColor":"#1a1a1a","domainWidth":3,"title":null}},
   "y":{"field":"e","type":"quantitative","scale":{"type":"log","domain":[1e5,5e7],"nice":false},"axis":{"values":[1e6,1e7],"labelExpr":"datum.value > 5e6 ? '10⁷' : '10⁶'","grid":false,"labelPadding":4,"minExtent":34,"maxExtent":34,"title":null,"labelFontSize":10,"labelOverlap":false}}}},
 {"data":{"values":[{"v":1e6},{"v":1e7}]},"mark":{"type":"rule","color":"#cc0000","strokeWidth":1},"encoding":{"y":{"field":"v","type":"quantitative","scale":{"type":"log","domain":[1e5,5e7]}}}},
 {"data":{"values":[{"h":364.3,"v":1e7}]},"mark":{"type":"text","fontSize":6,"color":"#444","align":"center","baseline":"middle"},
  "encoding":{"x":{"field":"h","type":"quantitative","scale":{"domain":[0,360]}},"y":{"field":"v","type":"quantitative","scale":{"type":"log","domain":[1e5,5e7]}},"text":{"value":"rt"}}}
]},
{"width":583,"height":45,"data":{"name":"d"},"layer":[
 {"mark":{"type":"area","color":"#0000ff","clip":true},
  "encoding":{"x":{"field":"h","type":"quantitative","scale":{"domain":[0,360],"nice":false,"zero":false},"axis":{"values":[24,48,72,96,120,144,168,192,216,240,264,288,312,336],"labels":false,"grid":true,"domain":true,"domainColor":"#1a1a1a","domainWidth":3,"title":null}},
   "y":{"field":"b","type":"quantitative","scale":{"type":"log","domain":[10,1e5],"nice":false},"axis":{"values":[100,1000,10000],"labels":false,"grid":true,"minExtent":34,"maxExtent":34,"title":null}},
   "y2":{"datum":10}}},
 {"mark":{"type":"line","color":"#ff0000","strokeWidth":1.2,"clip":true},
  "encoding":{"x":{"field":"h","type":"quantitative","scale":{"domain":[0,360]}},"y":{"field":"r","type":"quantitative","scale":{"type":"log","domain":[10,1e5]}}}},
 {"data":{"values":[{"v":10000}]},"mark":{"type":"rule","color":"#dd3333","strokeWidth":1.5,"strokeDash":[10,6]},"encoding":{"y":{"field":"v","type":"quantitative","scale":{"type":"log","domain":[10,1e5]}}}},
 {"data":{"values":[{"h":-2.47,"v":100,"l":"10²"},{"h":-2.47,"v":1000,"l":"10³"},{"h":-2.47,"v":10000,"l":"10⁴"}]},"mark":{"type":"text","fontSize":10,"font":"DejaVu Sans","color":"#222","align":"right","baseline":"middle"},
  "encoding":{"x":{"field":"h","type":"quantitative","scale":{"domain":[0,360]}},"y":{"field":"v","type":"quantitative","scale":{"type":"log","domain":[10,1e5]}},"text":{"field":"l"}}},
 {"data":{"values":[{"h":364.3,"v":13000}]},"mark":{"type":"text","fontSize":6,"color":"#444","align":"center","baseline":"middle"},
  "encoding":{"x":{"field":"h","type":"quantitative","scale":{"domain":[0,360]}},"y":{"field":"v","type":"quantitative","scale":{"type":"log","domain":[10,1e5]}},"text":{"value":"rt"}}}
]},
{"width":583,"height":45,"data":{"name":"d"},"layer":[
 {"mark":{"type":"line","color":"#2020ff","strokeWidth":1.2,"clip":true},
  "encoding":{"x":{"field":"h","type":"quantitative","scale":{"domain":[0,360],"nice":false,"zero":false},"axis":{"values":[0,24,48,72,96,120,144,168,192,216,240,264,288,312,336],"labelExpr":"'5/' + (10 + round(datum.value/24))","labelOffset":19.43,"labelFontSize":10,"labelPadding":4,"labelBaseline":"top","labelFlush":false,"labelOverlap":false,"grid":true,"domain":true,"domainColor":"#1a1a1a","domainWidth":1.5,"title":"2026","titleX":-16,"titleY":4,"titleBaseline":"top","titleAlign":"center","titleFontWeight":"normal","titleFontSize":10,"titleColor":"#222","titleFont":"DejaVu Sans"}},
   "y":{"field":"q","type":"quantitative","scale":{"type":"log","domain":[0.01,1e6],"nice":false},"axis":{"values":[1,100,10000],"labelExpr":"datum.value > 5000 ? '10⁴' : datum.value > 50 ? '10²' : '10⁰'","grid":true,"labelPadding":4,"minExtent":34,"maxExtent":34,"title":null,"labelFontSize":10,"labelOverlap":false}}}}
]}
]
}
